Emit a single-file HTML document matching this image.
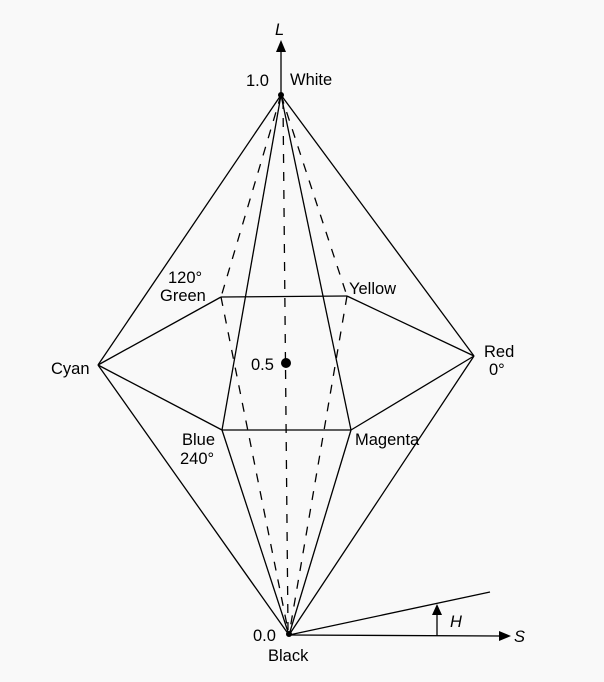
<!DOCTYPE html>
<html><head><meta charset="utf-8"><style>
html,body{margin:0;padding:0;background:#f9f9f9;}
svg{display:block;}
text{font-family:"Liberation Sans",Arial,sans-serif;font-size:16.5px;fill:#000;}
</style></head><body>
<svg width="604" height="682" viewBox="0 0 604 682" xmlns="http://www.w3.org/2000/svg">
<rect width="604" height="682" fill="#f9f9f9"/>
<g stroke="#000" stroke-width="1.3" fill="none">
<line x1="281" y1="95" x2="281" y2="48"/>
<line x1="281" y1="95" x2="98" y2="365"/>
<line x1="98" y1="365" x2="289" y2="635"/>
<line x1="281" y1="95" x2="474" y2="356"/>
<line x1="474" y1="356" x2="289" y2="635"/>
<line x1="281" y1="95" x2="222" y2="430"/>
<line x1="222" y1="430" x2="289" y2="635"/>
<line x1="281" y1="95" x2="351" y2="430"/>
<line x1="351" y1="430" x2="289" y2="635"/>
<line x1="98" y1="365" x2="221" y2="297"/>
<line x1="221" y1="297" x2="347" y2="296"/>
<line x1="347" y1="296" x2="474" y2="356"/>
<line x1="98" y1="365" x2="222" y2="430"/>
<line x1="222" y1="430" x2="351" y2="430"/>
<line x1="351" y1="430" x2="474" y2="356"/>
<g stroke-dasharray="9,9">
<line x1="281" y1="95" x2="221" y2="297"/>
<line x1="221" y1="297" x2="289" y2="635"/>
<line x1="281" y1="95" x2="347" y2="296"/>
<line x1="347" y1="296" x2="289" y2="635"/>
<line x1="283" y1="100" x2="288" y2="630"/>
</g>
<line x1="289" y1="635" x2="500" y2="636"/>
<line x1="289" y1="635" x2="490" y2="592"/>
<line x1="437" y1="636" x2="437" y2="614"/>
</g>
<polygon points="281,40 276,52 286,52" fill="#000"/>
<polygon points="511,636 499,631 499,641" fill="#000"/>
<polygon points="437,604 432,615 442,615" fill="#000"/>
<circle cx="286" cy="363" r="5" fill="#000"/>
<circle cx="281" cy="95" r="3" fill="#000"/>
<circle cx="289" cy="634" r="3" fill="#000"/>
<text x="275" y="35" font-style="italic">L</text>
<text x="246" y="86">1.0</text>
<text x="290" y="85">White</text>
<text x="168" y="283">120°</text>
<text x="160" y="301">Green</text>
<text x="349" y="294">Yellow</text>
<text x="51" y="374">Cyan</text>
<text x="484" y="357">Red</text>
<text x="489" y="375">0°</text>
<text x="251" y="370">0.5</text>
<text x="182" y="445">Blue</text>
<text x="180" y="464">240°</text>
<text x="355" y="445">Magenta</text>
<text x="450" y="627" font-style="italic">H</text>
<text x="514" y="642" font-style="italic">S</text>
<text x="253" y="641">0.0</text>
<text x="268" y="661">Black</text>
</svg>
</body></html>
